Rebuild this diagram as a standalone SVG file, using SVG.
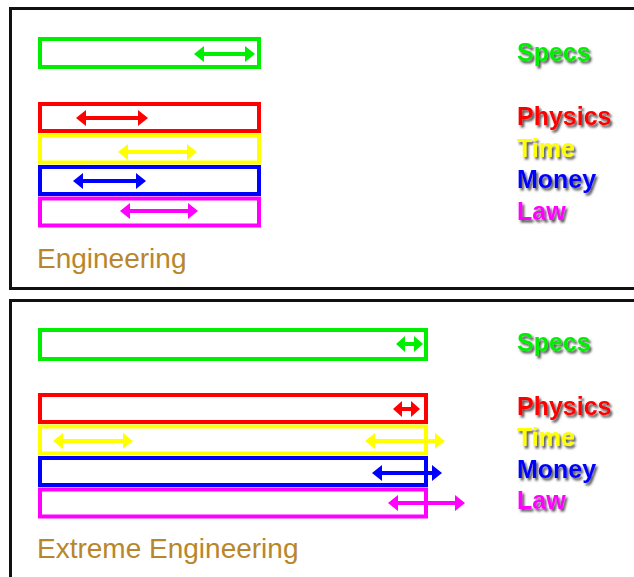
<svg xmlns="http://www.w3.org/2000/svg" width="634" height="577" viewBox="0 0 634 577">
  <defs>
    <filter id="shadow" x="-10%" y="-20%" width="130%" height="160%">
      <feDropShadow dx="2" dy="2.5" stdDeviation="1.2" flood-color="#444" flood-opacity="0.9"/>
    </filter>
    <style>
      .panel{fill:#fff;stroke:#111;stroke-width:3}
      .bar{fill:none;stroke-width:4}
      .g{stroke:#00ee00}.r{stroke:#ff0000}.y{stroke:#ffff00}.b{stroke:#0000ff}.m{stroke:#ff00ff}
      .fg{fill:#00ee00}.fr{fill:#ff0000}.fy{fill:#ffff00}.fb{fill:#0000ff}.fm{fill:#ff00ff}
      .lbl{font-family:"Liberation Sans",Arial,sans-serif;font-weight:bold;font-size:25px;filter:url(#shadow)}
      .title{font-family:"Liberation Sans",Arial,sans-serif;font-size:28px;fill:#b8862b}
    </style>
  </defs>

  <g id="panel-engineering">
    <rect class="panel" x="10.5" y="8.5" width="640" height="280"/>
    <g id="bars-top">
      <rect class="bar g" x="40" y="39" width="219" height="28"/>
      <rect class="bar r" x="40" y="104" width="219" height="27"/>
      <rect class="bar y" x="40" y="135.5" width="219" height="27"/>
      <rect class="bar b" x="40" y="167" width="219" height="27"/>
      <rect class="bar m" x="40" y="198.5" width="219" height="27"/>
    </g>
    <text class="lbl fg" x="517" y="61">Specs</text>
    <text class="lbl fr" x="517" y="125">Physics</text>
    <text class="lbl fy" x="517" y="156.5">Time</text>
    <text class="lbl fb" x="517" y="188">Money</text>
    <text class="lbl fm" x="517" y="219.5">Law</text>
    <text class="title" x="37" y="268">Engineering</text>
  </g>

  <g id="panel-extreme">
    <rect class="panel" x="10.5" y="300.5" width="640" height="300"/>
    <g id="bars-bottom">
      <rect class="bar g" x="40" y="330" width="386" height="29"/>
      <rect class="bar r" x="40" y="395" width="386" height="27"/>
      <rect class="bar y" x="40" y="426.5" width="386" height="27"/>
      <rect class="bar b" x="40" y="458" width="386" height="27"/>
      <rect class="bar m" x="40" y="489.5" width="386" height="27"/>
    </g>
    <text class="lbl fg" x="517" y="351">Specs</text>
    <text class="lbl fr" x="517" y="414.5">Physics</text>
    <text class="lbl fy" x="517" y="446">Time</text>
    <text class="lbl fb" x="517" y="477.5">Money</text>
    <text class="lbl fm" x="517" y="509">Law</text>
    <text class="title" x="37" y="558">Extreme Engineering</text>
  </g>

  <g id="arrows">
    <!-- top panel -->
    <path class="fg" d="M194,54 L204,46 L204,52 L245,52 L245,46 L255,54 L245,62 L245,56 L204,56 L204,62 Z"/>
    <path class="fr" d="M76,118 L86,110 L86,116 L138,116 L138,110 L148,118 L138,126 L138,120 L86,120 L86,126 Z"/>
    <path class="fy" d="M118,152 L128,144 L128,150 L187,150 L187,144 L197,152 L187,160 L187,154 L128,154 L128,160 Z"/>
    <path class="fb" d="M73,181 L83,173 L83,179 L136,179 L136,173 L146,181 L136,189 L136,183 L83,183 L83,189 Z"/>
    <path class="fm" d="M120,211 L130,203 L130,209 L188,209 L188,203 L198,211 L188,219 L188,213 L130,213 L130,219 Z"/>
    <!-- bottom panel -->
    <path class="fg" d="M396,344 L405,336 L405,342 L414,342 L414,336 L423,344 L414,352 L414,346 L405,346 L405,352 Z"/>
    <path class="fr" d="M393,409 L402,401 L402,407 L411,407 L411,401 L420,409 L411,417 L411,411 L402,411 L402,417 Z"/>
    <path class="fy" d="M53,441 L63,433 L63,439 L123,439 L123,433 L133,441 L123,449 L123,443 L63,443 L63,449 Z"/>
    <path class="fy" d="M365,441 L375,433 L375,439 L435,439 L435,433 L445,441 L435,449 L435,443 L375,443 L375,449 Z"/>
    <path class="fb" d="M372,473 L382,465 L382,471 L432,471 L432,465 L442,473 L432,481 L432,475 L382,475 L382,481 Z"/>
    <path class="fm" d="M388,503 L398,495 L398,501 L455,501 L455,495 L465,503 L455,511 L455,505 L398,505 L398,511 Z"/>
  </g>
</svg>
